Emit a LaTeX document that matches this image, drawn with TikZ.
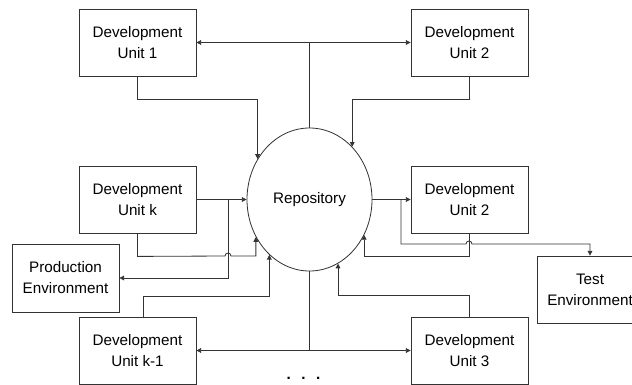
\documentclass[tikz,border=0pt]{standalone}
\usepackage{fontspec}
\setmainfont{Liberation Sans}
\usetikzlibrary{shapes.geometric,arrows.meta}

\begin{document}
\begin{tikzpicture}[x=0.03cm,y=-0.03cm,
  unit/.style={draw=black!80,line width=0.7pt,minimum width=3.51cm,minimum height=2.01cm,
    align=center,font=\fontsize{13}{18}\selectfont},
  flow/.style={draw=black!80,line width=0.7pt,-{Triangle[length=4pt,width=4pt]}},
  hop/.style={start angle=180,end angle=0,radius=0.09cm}]
  \clip (0,0) rectangle (632,385);
  % repository in the middle
  \node[ellipse,draw=black!80,line width=0.7pt,minimum width=3.75cm,minimum height=4.29cm,
    font=\fontsize{13}{18}\selectfont] (ring) at (309.5,199.5) {Repository};
  % development units
  \node[unit] (du1) at (137.5,42.5) {Development\\Unit 1};
  \node[unit] (du2) at (469.5,42.5) {Development\\Unit 2};
  \node[unit] (duk) at (137.5,199.5) {Development\\Unit k};
  \node[unit] (dub) at (469.5,199.5) {Development\\Unit 2};
  \node[unit] (duj) at (137.5,350.5) {Development\\Unit k-1};
  \node[unit] (du3) at (469.5,350.5) {Development\\Unit 3};
  % environments
  \node[unit,minimum width=3.21cm,minimum height=2.04cm] (prod) at (65.5,278) {Production\\Environment};
  \node[unit,minimum width=3.18cm] (test) at (590,289.5) {Test\\Environment};
  \node[font=\fontsize{13}{18}\selectfont\bfseries] (dots) at (303.5,378) {.\hspace{9pt}.\hspace{9pt}.};
  \coordinate (kjoin) at (228,199.5);
  \coordinate (tjoin) at (401,199.5);
  % repository out to the units
  \draw[flow] (ring.north) |- (du1.east);
  \draw[flow] (ring.north) |- (du2.west);
  \draw[flow] (ring.south) |- (duj.east);
  \draw[flow] (ring.south) |- (du3.west);
  \draw[flow] (duk.east) -- (ring.west);
  \draw[flow] (ring.east) -- (dub.west);
  \draw[flow] (kjoin) |- (prod.east);
  \draw[flow] (tjoin) -- (401,244) -- (466,244) arc[hop] -| (test.north);
  % units back into the repository
  \draw[flow] (du1.south) -- ++(0,23) -| (ring.142);
  \draw[flow] (du2.south) -- ++(0,23) -| (ring.51);
  \draw[flow] (duk.south) -- ++(0,23) -- (225,256) arc[hop] -| (ring.215);
  \draw[flow] (dub.south) -- ++(0,23) -| (ring.327);
  \draw[flow] ([xshift=0.18cm]duj.north) -- ++(0,-20) -| (ring.234);
  \draw[flow] (du3.north) -- ++(0,-21) -| (ring.294);
\end{tikzpicture}
\end{document}
